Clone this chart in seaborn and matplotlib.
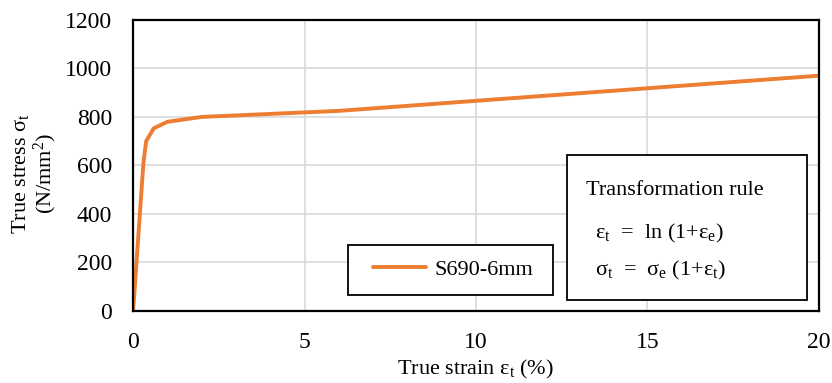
import matplotlib
matplotlib.use("Agg")
import matplotlib.pyplot as plt
from matplotlib.patches import Rectangle
import seaborn as sns
import pandas as pd

# True stress-strain curve of S690 steel, 6 mm plate
strain_pct = [0.0, 0.30, 0.38, 0.60, 1.00, 2.00, 6.00, 20.0]
stress_mpa = [0, 610, 700, 753, 780, 800, 825, 970]
series_name = "S690-6mm"

x_ticks = [0, 5, 10, 15, 20]
y_ticks = [0, 200, 400, 600, 800, 1000, 1200]

sns.set_theme(style="white")
plt.rcParams["font.family"] = ["Liberation Serif", "DejaVu Serif"]
plt.rcParams["mathtext.fontset"] = "custom"
plt.rcParams["mathtext.rm"] = "Liberation Serif"
plt.rcParams["mathtext.it"] = "Liberation Serif"
plt.rcParams["text.color"] = "black"
plt.rcParams["axes.labelcolor"] = "black"

FS = 16
TICK_FS = 17

df = pd.DataFrame({"strain": strain_pct, "stress": stress_mpa, "series": series_name})

fig = plt.figure(figsize=(8.32, 3.83), dpi=100)
ax = fig.add_axes([0.16, 0.188, 0.824, 0.76])

sns.lineplot(data=df, x="strain", y="stress", hue="series", palette=["#ED7D31"],
             linewidth=2.8, ax=ax, legend=False, sort=False, estimator=None)

ax.set_xlim(0, 20)
ax.set_ylim(0, 1200)
ax.set_xticks(x_ticks)
ax.set_yticks(y_ticks)
ax.tick_params(axis="both", labelsize=TICK_FS, length=0, colors="black")
ax.tick_params(axis="x", pad=15)
ax.tick_params(axis="y", pad=15)
ax.grid(True, color="#d9d9d9", linewidth=1.2)
for s in ax.spines.values():
    s.set_color("black")
    s.set_linewidth(1.6)

ax.set_xlabel(r"True strain $\mathrm{\varepsilon_t}$ (%)", fontsize=FS, labelpad=4)
ax.set_ylabel("True stress $\\mathrm{\\sigma_t}$\n(N/mm$^\\mathrm{2}$)", fontsize=FS,
              linespacing=1.05)
ax.yaxis.set_label_coords(-0.108, 0.474)

# legend drawn inside a separate frame
ax.add_patch(Rectangle((0.313, 0.055), 0.299, 0.172, transform=ax.transAxes,
                       facecolor="white", edgecolor="black", linewidth=1.3, zorder=4))
handle = plt.Line2D([], [], color="#ED7D31", linewidth=2.8)
leg = ax.legend([handle], [series_name], loc="center",
                bbox_to_anchor=(0.313 + 0.299 / 2 + 0.004, 0.055 + 0.172 / 2),
                frameon=False, fontsize=FS, handlelength=2.4, handletextpad=0.35)
leg.set_zorder(5)

# transformation rule box
ax.add_patch(Rectangle((0.633, 0.038), 0.350, 0.498, transform=ax.transAxes,
                       facecolor="white", edgecolor="black", linewidth=1.3, zorder=4))
ax.text(0.660, 0.415, "Transformation rule", transform=ax.transAxes, fontsize=FS,
        va="center", ha="left", zorder=5)
ax.text(0.673, 0.268, r"$\mathrm{\varepsilon_t}$  =  ln (1+$\mathrm{\varepsilon_e}$)",
        transform=ax.transAxes, fontsize=FS, va="center", ha="left", zorder=5)
ax.text(0.673, 0.14, r"$\mathrm{\sigma_t}$  =  $\mathrm{\sigma_e}$ (1+$\mathrm{\varepsilon_t}$)",
        transform=ax.transAxes, fontsize=FS, va="center", ha="left", zorder=5)

fig.savefig("out.png", dpi=100, facecolor="white")
